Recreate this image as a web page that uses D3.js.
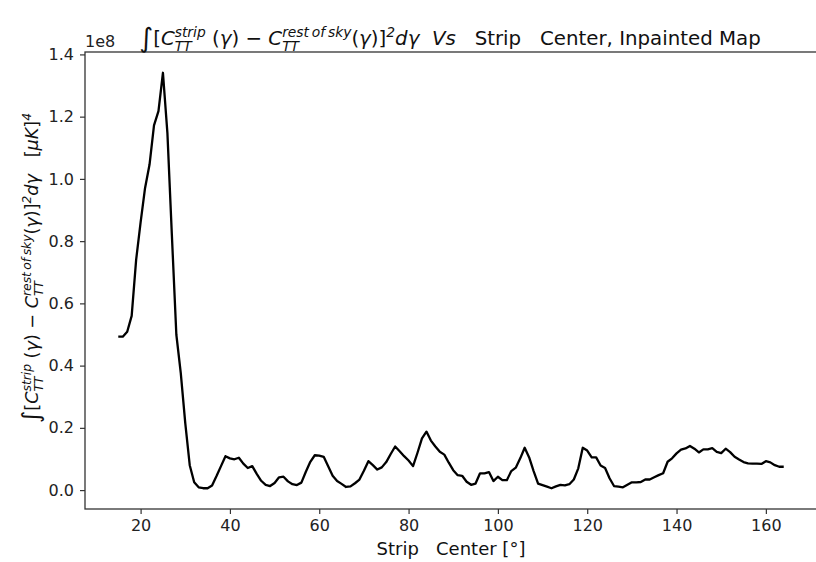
<!DOCTYPE html>
<html lang="en">
<head>
<meta charset="UTF-8">
<title>Strip integral vs strip center</title>
<script src="https://d3js.org/d3.v7.min.js"></script>
<style>
    body { margin: 0; background: white; }
    svg { display: block; font-family: "DejaVu Sans", sans-serif; }
    text { white-space: pre; }
</style>
</head>
<body>
<svg id="chart" width="816" height="562"></svg>
<script>
// strip centre in degrees
const stripCenter = [
    15, 16, 17, 18, 19, 20, 21, 22, 23, 24, 25, 26, 27, 28, 29, 30, 31, 32, 33, 34,
    35, 36, 37, 38, 39, 40, 41, 42, 43, 44, 45, 46, 47, 48, 49, 50, 51, 52, 53, 54,
    55, 56, 57, 58, 59, 60, 61, 62, 63, 64, 65, 66, 67, 68, 69, 70, 71, 72, 73, 74,
    75, 76, 77, 78, 79, 80, 81, 82, 83, 84, 85, 86, 87, 88, 89, 90, 91, 92, 93, 94,
    95, 96, 97, 98, 99, 100, 101, 102, 103, 104, 105, 106, 107, 108, 109, 110, 111, 112, 113, 114,
    115, 116, 117, 118, 119, 120, 121, 122, 123, 124, 125, 126, 127, 128, 129, 130, 131, 132, 133, 134,
    135, 136, 137, 138, 139, 140, 141, 142, 143, 144, 145, 146, 147, 148, 149, 150, 151, 152, 153, 154,
    155, 156, 157, 158, 159, 160, 161, 162, 163, 164
];

// integral value, in units of 1e8 [muK]^4
const integralValue = [
    0.493, 0.493, 0.509, 0.560, 0.740, 0.860, 0.971, 1.046, 1.172, 1.218, 1.341, 1.148, 0.820, 0.500, 0.375, 0.215, 0.080, 0.025, 0.009, 0.006,
    0.006, 0.015, 0.045, 0.077, 0.109, 0.102, 0.099, 0.104, 0.085, 0.071, 0.077, 0.052, 0.030, 0.017, 0.013, 0.023, 0.041, 0.043, 0.028, 0.019,
    0.016, 0.024, 0.059, 0.091, 0.112, 0.111, 0.107, 0.077, 0.046, 0.029, 0.020, 0.010, 0.012, 0.022, 0.034, 0.062, 0.093, 0.080, 0.066, 0.073,
    0.090, 0.116, 0.140, 0.125, 0.109, 0.095, 0.077, 0.120, 0.166, 0.188, 0.159, 0.140, 0.123, 0.114, 0.088, 0.064, 0.048, 0.046, 0.027, 0.017,
    0.021, 0.054, 0.054, 0.058, 0.029, 0.043, 0.032, 0.032, 0.061, 0.072, 0.102, 0.136, 0.105, 0.061, 0.021, 0.016, 0.011, 0.006, 0.012, 0.017,
    0.015, 0.019, 0.034, 0.070, 0.136, 0.127, 0.105, 0.105, 0.079, 0.071, 0.038, 0.013, 0.011, 0.009, 0.017, 0.025, 0.025, 0.026, 0.034, 0.034,
    0.041, 0.048, 0.054, 0.091, 0.102, 0.118, 0.130, 0.134, 0.142, 0.133, 0.121, 0.131, 0.131, 0.135, 0.123, 0.119, 0.133, 0.122, 0.107, 0.098,
    0.090, 0.086, 0.085, 0.085, 0.084, 0.093, 0.089, 0.080, 0.075, 0.075
];

const xTicks = [20, 40, 60, 80, 100, 120, 140, 160];
const yTicks = [0.0, 0.2, 0.4, 0.6, 0.8, 1.0, 1.2, 1.4];

const svg = d3.select("#chart");
const plotLeft = 85, plotRight = 817, plotTop = 52, plotBottom = 509;

// matplotlib style 5% margins
const xSpan = d3.max(stripCenter) - d3.min(stripCenter);
const ySpan = d3.max(integralValue) - d3.min(integralValue);
const x = d3.scaleLinear()
    .domain([d3.min(stripCenter) - 0.05 * xSpan, d3.max(stripCenter) + 0.05 * xSpan])
    .range([plotLeft, plotRight]);
const y = d3.scaleLinear()
    .domain([d3.min(integralValue) - 0.05 * ySpan, d3.max(integralValue) + 0.05 * ySpan])
    .range([plotBottom, plotTop]);

const data = stripCenter.map((c, i) => ({ c: c, v: integralValue[i] }));

// axes
const xAxis = svg.append("g")
    .attr("transform", `translate(0,${plotBottom})`)
    .call(d3.axisBottom(x).tickValues(xTicks).tickSize(5).tickPadding(6).tickFormat(d3.format("d")));
const yAxis = svg.append("g")
    .attr("transform", `translate(${plotLeft},0)`)
    .call(d3.axisLeft(y).tickValues(yTicks).tickSize(5).tickPadding(6).tickFormat(d3.format(".1f")));
[xAxis, yAxis].forEach(a => {
    a.select(".domain").remove();
    a.selectAll(".tick line").attr("stroke", "#333").attr("stroke-width", 1.2);
    a.selectAll(".tick text").attr("fill", "#222").attr("font-size", 16)
        .attr("font-family", "DejaVu Sans, sans-serif");
});

// line
svg.append("path")
    .datum(data)
    .attr("fill", "none")
    .attr("stroke", "#000")
    .attr("stroke-width", 2.3)
    .attr("stroke-linejoin", "round")
    .attr("d", d3.line().x(d => x(d.c)).y(d => y(d.v)));

// frame
svg.append("rect")
    .attr("x", plotLeft).attr("y", plotTop)
    .attr("width", plotRight - plotLeft).attr("height", plotBottom - plotTop)
    .attr("fill", "none").attr("stroke", "#333").attr("stroke-width", 1.3);

// offset text
svg.append("text")
    .attr("x", plotLeft).attr("y", 47)
    .attr("font-size", 16).attr("fill", "#222")
    .text("1e8");

// simple mathtext-like layout with tspans
function mathText(parent, runs, fs, anchor) {
    const t = parent.append("text")
        .attr("font-size", fs)
        .attr("fill", "#111")
        .attr("xml:space", "preserve");
    let cx = 0;
    function add(str, it, scale, dy) {
        const s = t.append("tspan")
            .attr("x", cx)
            .attr("y", dy * fs)
            .attr("font-size", fs * scale)
            .attr("font-style", it ? "italic" : "normal")
            .text(str);
        return s.node().getComputedTextLength();
    }
    runs.forEach(r => {
        if (r.sup !== undefined || r.sub !== undefined) {
            let w1 = 0, w2 = 0;
            if (r.sup !== undefined) w1 = add(r.sup, true, 0.7, -0.42);
            if (r.sub !== undefined) w2 = add(r.sub, true, 0.7, 0.28);
            cx += Math.max(w1, w2);
        } else {
            cx += add(r.t, r.it, r.s || 1, r.dy || 0);
        }
    });
    if (anchor === "middle") t.attr("transform", `translate(${-cx / 2},0)`);
    return t;
}

const mathRuns = [
    { t: "\u222B", s: 1.35, dy: 0.08 },
    { t: "[" },
    { t: "C", it: true },
    { sup: "strip", sub: "TT" },
    { t: " (" }, { t: "\u03B3", it: true }, { t: ") \u2212 " },
    { t: "C", it: true },
    { sup: "rest\u2009of\u2009sky", sub: "TT" },
    { t: "(" }, { t: "\u03B3", it: true }, { t: ")]" },
    { sup: "2" },
    { t: "d\u03B3", it: true }
];

const titleRuns = mathRuns.concat([
    { t: "  " }, { t: "Vs", it: true },
    { t: "   Strip   Center, Inpainted Map" }
]);
const ylabRuns = mathRuns.concat([
    { t: "   [" }, { t: "\u03BCK", it: true }, { t: "]" }, { sup: "4" }
]);

mathText(svg.append("g").attr("transform", "translate(450,45)"), titleRuns, 19.8, "middle");
mathText(svg.append("g").attr("transform", "translate(38,268) rotate(-90)"), ylabRuns, 17.6, "middle");

// x label
svg.append("text")
    .attr("x", 451).attr("y", 555)
    .attr("text-anchor", "middle")
    .attr("font-size", 18).attr("fill", "#111")
    .text("Strip   Center [\u00B0]");
</script>
</body>
</html>
